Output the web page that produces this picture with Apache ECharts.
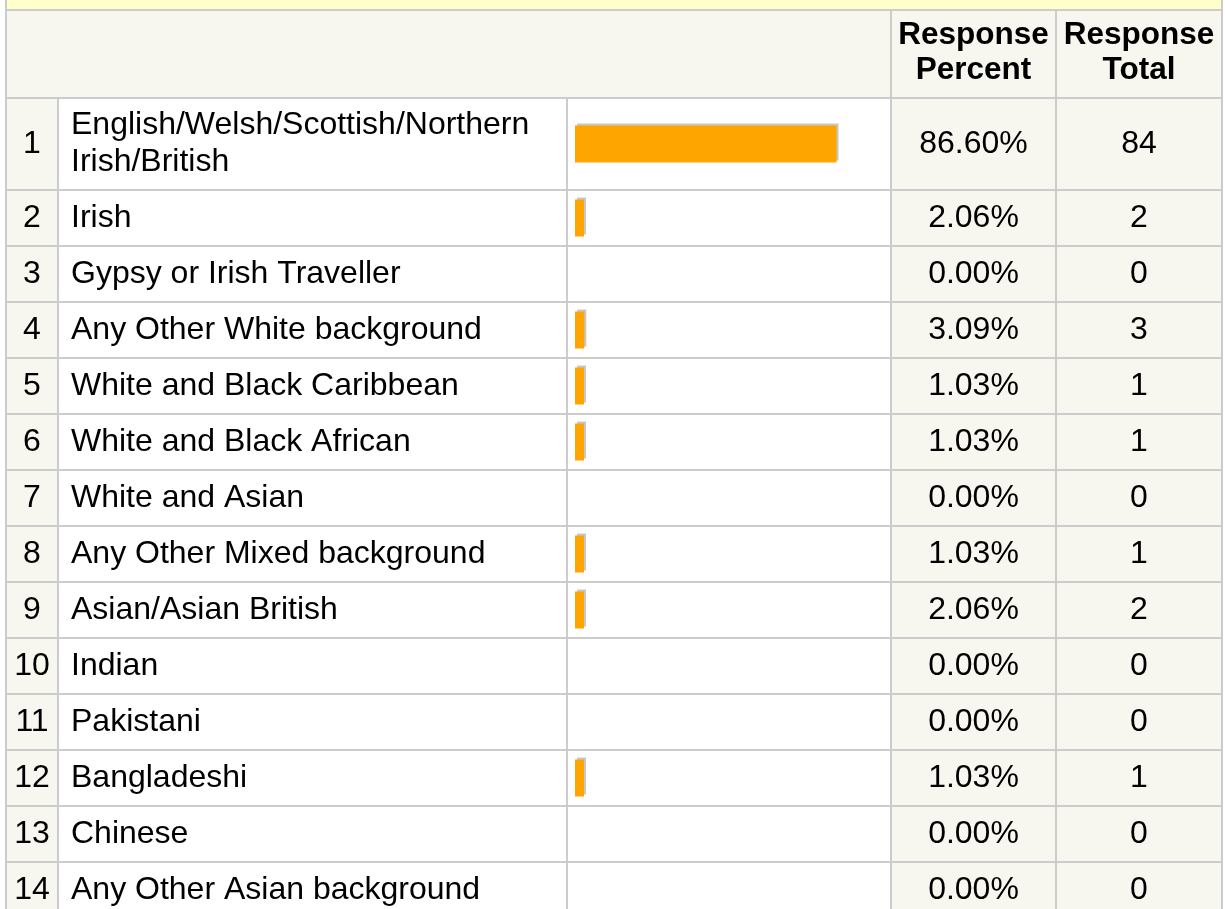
<!DOCTYPE html>
<html>
<head>
<meta charset="utf-8">
<title>Ethnic group</title>
<script src="https://cdn.jsdelivr.net/npm/echarts@6/dist/echarts.min.js"></script>
<style>
  html, body { margin: 0; padding: 0; background: #fff; }
  #chart { width: 1225px; height: 909px; }
</style>
</head>
<body>
<div id="chart"></div>
<script>
const rowNumbers = ['1', '2', '3', '4', '5', '6', '7', '8', '9', '10', '11', '12', '13', '14']
const categories = [
  'English/Welsh/Scottish/Northern\nIrish/British',
  'Irish',
  'Gypsy or Irish Traveller',
  'Any Other White background',
  'White and Black Caribbean',
  'White and Black African',
  'White and Asian',
  'Any Other Mixed background',
  'Asian/Asian British',
  'Indian',
  'Pakistani',
  'Bangladeshi',
  'Chinese',
  'Any Other Asian background',
]
const responsePercent = [86.60, 2.06, 0.00, 3.09, 1.03, 1.03, 0.00, 1.03, 2.06, 0.00, 0.00, 1.03, 0.00, 0.00]
const responseTotal = [84, 2, 0, 3, 1, 1, 0, 1, 2, 0, 0, 1, 0, 0]
const headerLabels = ['Response\nPercent', 'Response\nTotal']

const font = "'Liberation Sans', Arial, sans-serif"
const lineColor = '#cccccc'
const beige = '#f7f7ef'
// column borders: number | label | bar | percent | total
const colX = [6, 58, 567, 891, 1056, 1222]
const bandTop = 10
const headBottom = 98
const firstRowBottom = 190
const rowHeight = 56
const barLeft = 575
const barSpan = 302
const pageBottom = 909

// first row is taller (two-line label), so it gets its own grids
const sections = [
  { start: 0, end: 1, top: headBottom, height: firstRowBottom - headBottom },
  { start: 1, end: 14, top: firstRowBottom, height: 13 * rowHeight },
]

const grid = []
const xAxis = []
const yAxis = []
const series = []

// one grid per column so every axis sits alone on its grid
const addGrid = (left, width, s, xMax) => {
  const idx = grid.length
  // last section runs past the bottom of the page, don't let echarts squeeze it
  grid.push({ left, top: s.top, width, height: s.height, outerBoundsMode: 'none' })
  xAxis.push({ gridIndex: idx, type: 'value', min: 0, max: xMax, show: false })
  return idx
}

sections.forEach((s) => {
  const slice = (arr) => arr.slice(s.start, s.end)

  // row lines across the whole table
  const lineGrid = addGrid(colX[0], colX[5] - colX[0], s, 1)
  yAxis.push({
    gridIndex: lineGrid,
    type: 'category',
    inverse: true,
    data: slice(rowNumbers),
    axisLine: { show: false },
    axisTick: { show: false },
    axisLabel: { show: false },
    splitLine: { show: true, interval: 0, lineStyle: { color: lineColor, width: 2 } },
  })

  const textColumn = (col, data, align, x) => {
    const g = addGrid(colX[col], colX[col + 1] - colX[col], s, 1)
    yAxis.push({
      gridIndex: g,
      type: 'category',
      position: 'left',
      inverse: true,
      data,
      axisLine: { show: false },
      axisTick: { show: false },
      splitLine: { show: false },
      axisLabel: {
        inside: true,
        interval: 0,
        align,
        margin: x - colX[col],
        color: '#000',
        fontSize: 32,
        fontFamily: font,
        lineHeight: 37,
        padding: [6, 0, 0, 0],
      },
    })
  }

  textColumn(0, slice(rowNumbers), 'center', (colX[0] + colX[1]) / 2)
  textColumn(1, slice(categories), 'left', 71)
  textColumn(3, slice(responsePercent).map((v) => v.toFixed(2) + '%'), 'center', (colX[3] + colX[4]) / 2)
  textColumn(4, slice(responseTotal).map(String), 'center', (colX[4] + colX[5]) / 2)

  // bar column
  const barGrid = addGrid(barLeft, barSpan, s, 100)
  const barY = yAxis.length
  yAxis.push({ gridIndex: barGrid, type: 'category', inverse: true, data: slice(categories), show: false })

  series.push({
    type: 'bar',
    xAxisIndex: barGrid,
    yAxisIndex: barY,
    data: slice(responsePercent).map((v) => (v > 0 ? v : '-')),
    barWidth: 37,
    barMinHeight: 9,
    silent: true,
    itemStyle: {
      color: '#ffa500',
      shadowColor: '#c8c8c8',
      shadowBlur: 0,
      shadowOffsetX: 2,
      shadowOffsetY: -2,
    },
  })
})

const rect = (x, y, w, h, fill) => ({
  type: 'rect', z: -1, silent: true,
  shape: { x, y, width: w, height: h },
  style: { fill },
})
const line = (x1, y1, x2, y2) => ({
  type: 'line', z: 50, silent: true,
  shape: { x1, y1, x2, y2 },
  style: { stroke: lineColor, lineWidth: 2 },
})

const graphic = [
  rect(colX[0], 0, colX[5] - colX[0], bandTop, '#ffffcc'),
  rect(colX[0], bandTop, colX[5] - colX[0], headBottom - bandTop, beige),
  rect(colX[0], headBottom, colX[1] - colX[0], pageBottom - headBottom, beige),
  rect(colX[3], headBottom, colX[5] - colX[3], pageBottom - headBottom, beige),
  rect(colX[1], headBottom, colX[3] - colX[1], pageBottom - headBottom, '#ffffff'),
  line(colX[0], bandTop, colX[5], bandTop),
  line(colX[0], headBottom, colX[5], headBottom),
  line(colX[0], 0, colX[0], pageBottom),
  line(colX[5], 0, colX[5], pageBottom),
  line(colX[1], headBottom, colX[1], pageBottom),
  line(colX[2], headBottom, colX[2], pageBottom),
  line(colX[3], bandTop, colX[3], pageBottom),
  line(colX[4], bandTop, colX[4], pageBottom),
]

headerLabels.forEach((text, i) => {
  graphic.push({
    type: 'text',
    z: 50,
    silent: true,
    x: (colX[3 + i] + colX[4 + i]) / 2,
    y: (bandTop + headBottom) / 2 - 1,
    style: {
      text,
      align: 'center',
      verticalAlign: 'middle',
      fill: '#000',
      font: 'bold 31.5px ' + font,
      lineHeight: 35,
    },
  })
})

const chart = echarts.init(document.getElementById('chart'))
chart.setOption({
  animation: false,
  backgroundColor: '#ffffff',
  grid,
  xAxis,
  yAxis,
  series,
  graphic,
})
</script>
</body>
</html>
